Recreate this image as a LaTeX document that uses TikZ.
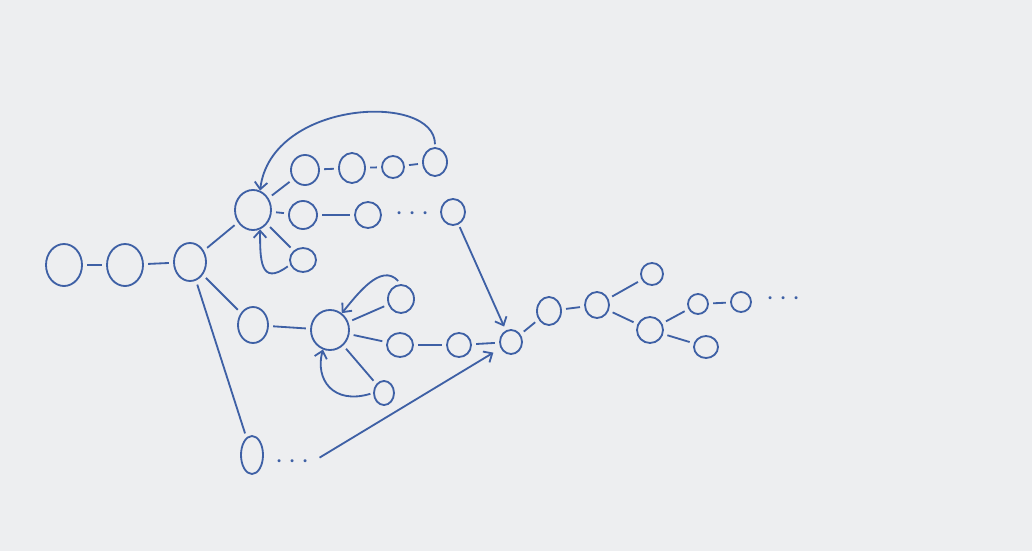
\documentclass[tikz,border=0pt]{standalone}
\usetikzlibrary{shapes.geometric,arrows.meta}
\definecolor{ink}{RGB}{62,96,165}
\definecolor{board}{RGB}{237,238,240}

\tikzset{
  vtx/.style 2 args={draw=ink, ellipse, inner sep=0pt, minimum width=#1cm, minimum height=#2cm},
  more/.style={ink, inner sep=1pt, font=\huge},
  arr/.style={draw=ink, -{Straight Barb[length=5pt,width=9pt]}},
}

\begin{document}
\begin{tikzpicture}[x=0.025cm, y=-0.025cm, line width=1.3pt]{
    \fill [board] (0,0) rectangle (1032,551);
    \useasboundingbox (0,0) rectangle (1032,551);

    % left chain and first hub
    \node [vtx={0.9}{1.05}] (a1) at (64,265) {};
    \node [vtx={0.9}{1.05}] (a2) at (125,265) {};
    \node [vtx={0.8}{0.95}] (a3) at (190,262) {};

    % upper hub
    \node [vtx={0.9}{1.0}] (b) at (253,210) {};
    \node [vtx={0.7}{0.75}] (b11) at (305,170) {};
    \node [vtx={0.65}{0.75}] (b12) at (352,168) {};
    \node [vtx={0.55}{0.55}] (b13) at (393,167) {};
    \node [vtx={0.6}{0.7}] (b14) at (435,162) {};
    \node [vtx={0.7}{0.7}] (b21) at (303,215) {};
    \node [vtx={0.65}{0.65}] (b22) at (368,215) {};
    \node [more] (b2dots) at (413,214) {$\cdots$};
    \node [vtx={0.6}{0.65}] (b23) at (453,212) {};
    \node [vtx={0.65}{0.6}] (b3) at (303,260) {};

    % lower hub
    \node [vtx={0.75}{0.9}] (c1) at (253,325) {};
    \node [vtx={0.95}{1.0}] (c) at (330,330) {};
    \node [vtx={0.65}{0.7}] (c2) at (401,299) {};
    \node [vtx={0.65}{0.6}] (c3) at (400,345) {};
    \node [vtx={0.6}{0.6}] (c4) at (459,345) {};
    \node [vtx={0.5}{0.6}] (c5) at (384,393) {};

    % bottom branch
    \node [vtx={0.55}{0.95}] (d) at (252,455) {};
    \node [more] (ddots) at (293,462) {$\cdots$};

    % merge node and right tree
    \node [vtx={0.55}{0.6}] (m) at (511,342) {};
    \node [vtx={0.6}{0.7}] (e1) at (549,311) {};
    \node [vtx={0.6}{0.65}] (e2) at (597,305) {};
    \node [vtx={0.55}{0.55}] (e3) at (652,274) {};
    \node [vtx={0.65}{0.65}] (e4) at (650,330) {};
    \node [vtx={0.5}{0.5}] (e5) at (698,304) {};
    \node [vtx={0.5}{0.5}] (e6) at (741,302) {};
    \node [more] (edots) at (784,299) {$\cdots$};
    \node [vtx={0.6}{0.55}] (e7) at (706,347) {};

    \begin{scope}[draw=ink, shorten >=3pt, shorten <=3pt]
    \path (a1) edge (a2);
    \path (a2) edge (a3);
    \path (a3) edge (b);
    \path (a3) edge (c1);
    \path (a3) edge (d);
    \path (b) edge (b11);
    \path (b11) edge (b12);
    \path (b12) edge (b13);
    \path (b13) edge (b14);
    \path (b) edge (b21);
    \path (b21) edge (b22);
    \path (b) edge (b3);
    \path (c1) edge (c);
    \path (c) edge (c2);
    \path (c) edge (c3);
    \path (c3) edge (c4);
    \path (c4) edge (m);
    \path (c) edge (c5);
    \path (m) edge (e1);
    \path (e1) edge (e2);
    \path (e2) edge (e3);
    \path (e2) edge (e4);
    \path (e4) edge (e5);
    \path (e5) edge (e6);
    \path (e4) edge (e7);
    \end{scope}

    % back links
    \draw [arr, shorten <=2pt] (b14.north) .. controls +(0,-55) and +(11,-91) .. (b.70);
    \draw [arr, shorten <=2pt] (b3.200) .. controls +(-30,22) and +(0,30) .. (b.-70);
    \draw [arr, shorten <=3pt] (c2.north) .. controls +(-20,-22) and +(15,-18) .. (c.55);
    \draw [arr, shorten <=2pt] (c5.west) .. controls +(-40,12) and +(-8,30) .. (c.-110);
    \draw [arr, shorten <=2pt, shorten >=3pt] (b23) -- (m);
    \draw [arr, shorten <=6pt, shorten >=6pt] (ddots.east) -- (m);
    }
\end{tikzpicture}
\end{document}
